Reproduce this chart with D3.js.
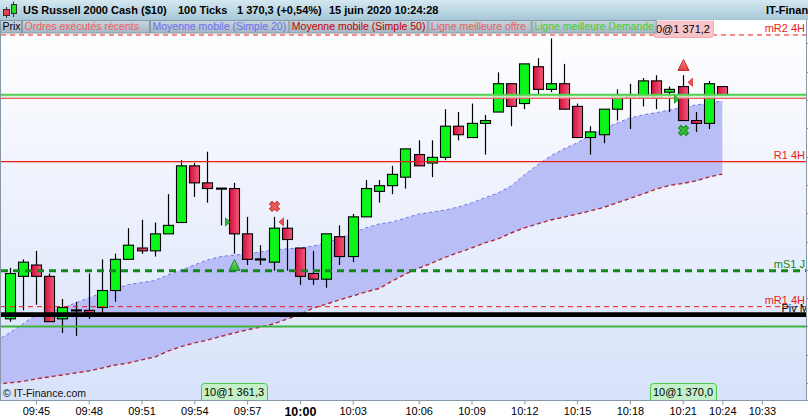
<!DOCTYPE html>
<html><head><meta charset="utf-8">
<script src="https://cdnjs.cloudflare.com/ajax/libs/d3/7.8.5/d3.min.js"></script>
<style>
html,body{margin:0;padding:0;background:#ffffff;overflow:hidden;}
svg{display:block;}
text{font-family:"Liberation Sans",Arial,sans-serif;}
</style></head><body>
<svg id="chart" width="808" height="420"></svg>
<script>
// ---------------- data ----------------
const candleIdx = d3.range(1, 56);
const opens  = [1362.4,1363.9,1364.3,1363.9,1362.4,1362.7,1362.7,1362.8,1363.4,1364.5,1364.9,1364.8,1365.4,1365.8,1367.8,1367.2,1367.0,1367.0,1365.4,1364.5,1364.4,1365.6,1364.9,1364.0,1363.8,1365.3,1364.6,1366.0,1366.9,1367.1,1367.4,1368.2,1367.9,1368.1,1369.2,1368.8,1369.3,1369.7,1370.7,1370.0,1371.3,1370.5,1370.7,1369.9,1368.8,1368.9,1369.8,1370.3,1370.2,1370.8,1370.4,1370.6,1369.4,1369.3,1370.6];
const highs  = [1364.2,1364.5,1364.8,1364.0,1363.1,1363.0,1364.0,1364.5,1364.7,1365.6,1365.9,1365.8,1366.8,1368.0,1367.9,1368.3,1367.0,1367.2,1366.0,1365.0,1366.0,1365.9,1364.9,1364.8,1365.4,1365.7,1366.1,1367.3,1367.3,1367.8,1368.4,1368.7,1368.7,1369.8,1369.7,1370.0,1369.6,1371.1,1370.7,1371.4,1371.6,1372.3,1371.4,1370.0,1369.2,1369.8,1370.5,1370.7,1370.9,1371.0,1370.6,1371.0,1369.7,1370.8,1370.6];
const lows   = [1362.3,1362.7,1362.9,1362.3,1361.9,1361.8,1362.4,1362.6,1363.0,1364.5,1364.7,1364.6,1365.4,1365.8,1366.7,1366.5,1365.7,1364.7,1364.3,1364.3,1364.1,1364.1,1363.6,1363.6,1363.5,1364.3,1364.4,1366.0,1366.5,1366.8,1367.0,1367.8,1367.4,1368.0,1368.7,1368.8,1368.2,1369.7,1369.2,1369.8,1370.3,1370.4,1369.8,1368.8,1368.2,1368.6,1369.4,1369.1,1369.9,1369.8,1369.7,1369.4,1369.0,1369.1,1370.3];
const closes = [1364.0,1364.4,1363.9,1362.3,1362.8,1362.7,1362.6,1363.4,1364.5,1365.0,1364.8,1365.4,1365.7,1367.8,1367.2,1367.0,1367.0,1365.4,1364.5,1364.5,1365.6,1365.2,1363.9,1363.8,1365.4,1364.6,1366.0,1367.0,1367.1,1367.5,1368.4,1367.8,1368.1,1369.2,1368.9,1369.3,1369.4,1370.7,1369.9,1371.4,1370.5,1370.7,1369.8,1368.8,1369.0,1369.8,1370.3,1370.2,1370.8,1370.2,1370.5,1369.4,1369.3,1370.7,1370.3];

const maIdx = d3.range(0, 56);
const ma20 = [1361.62,1361.90,1362.22,1362.54,1362.64,1362.78,1362.96,1363.14,1363.31,1363.45,1363.61,1363.68,1363.75,1363.95,1364.12,1364.30,1364.48,1364.60,1364.65,1364.69,1364.76,1364.83,1364.87,1364.90,1364.97,1365.08,1365.25,1365.43,1365.61,1365.75,1365.82,1365.96,1366.10,1366.17,1366.24,1366.35,1366.49,1366.67,1366.84,1367.09,1367.48,1367.83,1368.15,1368.40,1368.61,1368.89,1369.10,1369.31,1369.49,1369.60,1369.68,1369.77,1369.86,1369.95,1370.02,1370.09];
const ma50 = [1360.10,1360.14,1360.19,1360.28,1360.35,1360.42,1360.49,1360.56,1360.66,1360.77,1360.84,1360.95,1361.05,1361.26,1361.42,1361.55,1361.65,1361.78,1361.90,1362.01,1362.11,1362.22,1362.39,1362.54,1362.78,1362.92,1363.07,1363.21,1363.35,1363.47,1363.74,1363.98,1364.19,1364.37,1364.57,1364.74,1364.90,1365.08,1365.22,1365.43,1365.61,1365.75,1365.89,1365.99,1366.10,1366.21,1366.33,1366.49,1366.65,1366.81,1366.98,1367.11,1367.18,1367.27,1367.41,1367.51];

const tickIdx = [3,7,11,15,19,23,27,32,36,40,44,48,52,55,58];
const tickLabels = ["09:45","09:48","09:51","09:54","09:57","10:00","10:03","10:06","10:09","10:12","10:15","10:18","10:21","10:24","10:33"];
const boldTick = "10:00";
const priceTicks = [1359.13,1360.13,1361.13,1362.13,1363.13,1364.13,1365.13,1366.13,1367.13,1368.13,1369.13,1370.13,1371.13,1372.13];

const levelLabels = ["mR2 4H","R1 4H","mS1 J","mR1 4H","Piv M",""];
const levelPrices = [1372.42,1367.95,1364.10,1362.83,1362.55,1362.13];
const levelKinds  = ["redDash","redSolid","greenDash","redDash","pivot","greenSolid"];
const bidPrice = 1370.31;
const askPrice = 1370.18;

const signalIdx    = [18,21,52,52];
const signalPrices = [1364.30,1366.37,1371.36,1369.05];
const signalTypes  = ["buyTri","sellX","sellTri","buyX"];

const execIdx    = [18,21,52,52];
const execPrices = [1365.82,1365.82,1370.15,1370.75];
const execSides  = ["buy","sell","buy","sell"];

const orderIdx    = [18,52,52];
const orderLabels = ["10@1 361,3","10@1 370,0","0@1 371,2"];
const orderPlaces = ["bottom","bottom","top"];

const legendNames  = ["Prix","Ordres exécutés récents","Moyenne mobile (Simple 20)","Moyenne mobile (Simple 50)","Ligne meilleure offre","Ligne meilleure Demande"];
const legendColors = ["#000000","#f25c5c","#6d6df2","#c00000","#e8605a","#3dd03d"];
const headerParts  = ["US Russell 2000 Cash ($10)","100 Ticks","1 370,3 (+0,54%)","15 juin 2020 10:24:28"];
const brand = "IT-Finance.com";

// ---------------- layout ----------------
const W = 808, H = 420;
const plotL = 1, plotR = 806, plotT = 20, plotB = 400;
const headerX = [23,178,237,329];
const tabEdges = [0,22,150,289.3,428.3,531.7,656.7];

const svg = d3.select("#chart");
const defs = svg.append("defs");
function vgrad(id, stops, horiz){
  const g = defs.append("linearGradient").attr("id", id)
    .attr("x1",0).attr("y1",0).attr("x2",horiz?1:0).attr("y2",horiz?0:1);
  stops.forEach(s => g.append("stop").attr("offset", s[0]).attr("stop-color", s[1]));
}
vgrad("bgGrad", [[0,"#ffffff"],[0.35,"#f2f5fd"],[1,"#d7e2fa"]]);
vgrad("hdrGrad", [[0,"#d4e8f1"],[1,"#a7c7d7"]]);
vgrad("tabGrad", [[0,"#c9d7df"],[1,"#a3b7c3"]]);
vgrad("redBody", [[0,"#d0103e"],[1,"#f45a7c"]], true);
vgrad("greenTri", [[0,"#7fe07f"],[1,"#2fae2f"]]);
vgrad("redTri", [[0,"#ff8a8a"],[1,"#e03a3a"]]);
defs.append("clipPath").attr("id","plotClip").append("rect")
  .attr("x",plotL).attr("y",plotT).attr("width",plotR-plotL).attr("height",plotB-plotT);

const x = d3.scaleLinear().domain([1,58]).range([9.5, 761.9]);
const y = d3.scaleLinear().domain([1359.5,1373.0]).range([401, 18.55]);

// background
svg.append("rect").attr("x",0).attr("y",0).attr("width",W).attr("height",H).attr("fill","#ffffff");
svg.append("rect").attr("x",0).attr("y",plotT).attr("width",plotR).attr("height",plotB-plotT).attr("fill","url(#bgGrad)");

const plot = svg.append("g").attr("clip-path","url(#plotClip)");

// MA band
const band = maIdx.map((d,i)=>({i:d, a:ma20[i], b:ma50[i]}));
plot.append("path").datum(band)
  .attr("d", d3.area().x(d=>x(d.i)).y0(d=>y(d.b)).y1(d=>y(d.a)))
  .attr("fill","#b9bef7");
plot.append("path").datum(band)
  .attr("d", d3.line().x(d=>x(d.i)).y(d=>y(d.a)))
  .attr("fill","none").attr("stroke","#6e74ee").attr("stroke-width",1).attr("stroke-dasharray","3,3");
plot.append("path").datum(band)
  .attr("d", d3.line().x(d=>x(d.i)).y(d=>y(d.b)))
  .attr("fill","none").attr("stroke","#b22a36").attr("stroke-width",1.4).attr("stroke-dasharray","4,3");

// candles
const candles = candleIdx.map((d,i)=>({i:d,o:opens[i],h:highs[i],l:lows[i],c:closes[i]}));
const cg = plot.append("g");
candles.forEach(d=>{
  const cx = Math.round(x(d.i));
  cg.append("line").attr("x1",cx+0.5).attr("x2",cx+0.5)
    .attr("y1",y(d.h)).attr("y2",y(d.l)).attr("stroke","#000").attr("stroke-width",1.2);
  if (d.o === d.c) {
    cg.append("rect").attr("x",cx-5).attr("width",11).attr("y",y(d.c)-1).attr("height",2.2).attr("fill","#000");
  } else {
    const top = y(Math.max(d.o,d.c)), bot = y(Math.min(d.o,d.c));
    cg.append("rect").attr("x",cx-4.5).attr("width",10)
      .attr("y",top).attr("height",Math.max(1.5,bot-top))
      .attr("fill", d.c > d.o ? "#0cf51a" : "url(#redBody)")
      .attr("stroke","#000").attr("stroke-width",1.1);
  }
});

// horizontal levels
const lg = plot.append("g");
lg.append("rect").attr("x",plotL).attr("width",plotR-plotL)
  .attr("y",y(bidPrice)).attr("height",y(askPrice)-y(bidPrice)).attr("fill","#d9efd6").attr("opacity",0.85);
lg.append("line").attr("x1",plotL).attr("x2",plotR).attr("y1",y(bidPrice)).attr("y2",y(bidPrice))
  .attr("stroke","#4cd44c").attr("stroke-width",1.8);
lg.append("line").attr("x1",plotL).attr("x2",plotR).attr("y1",y(askPrice)).attr("y2",y(askPrice))
  .attr("stroke","#e86060").attr("stroke-width",1.2);
const levelStyle = {
  redDash:   {stroke:"#f01818", w:1, dash:"5,4"},
  redSolid:  {stroke:"#f01818", w:1.2, dash:null},
  greenDash: {stroke:"#12881a", w:3, dash:"7,5"},
  pivot:     {stroke:"#000000", w:4.6, dash:null},
  greenSolid:{stroke:"#3cb43c", w:2, dash:null}
};
levelPrices.forEach((p,i)=>{
  const s = levelStyle[levelKinds[i]];
  lg.append("line").attr("x1",plotL).attr("x2",plotR).attr("y1",y(p)).attr("y2",y(p))
    .attr("stroke",s.stroke).attr("stroke-width",s.w).attr("stroke-dasharray",s.dash);
});
const labelColor = {redDash:"#f01818",redSolid:"#f01818",greenDash:"#12881a",pivot:"#000",greenSolid:"#3cb43c"};
levelPrices.forEach((p,i)=>{
  if (!levelLabels[i]) return;
  plot.append("text").attr("x", levelKinds[i]==="pivot"?809:805).attr("y",y(p)-3)
    .attr("text-anchor","end").attr("font-size","11px")
    .attr("fill",labelColor[levelKinds[i]]).text(levelLabels[i]);
});

// executions (small triangles)
execIdx.forEach((ci,k)=>{
  const cx = Math.round(x(ci))+0.5, cy = y(execPrices[k]);
  let pts;
  if (execSides[k]==="buy") pts = [[cx-9,cy-4],[cx-4.5,cy],[cx-9,cy+4]];
  else pts = [[cx+9,cy-4],[cx+4.5,cy],[cx+9,cy+4]];
  plot.append("path").attr("d","M"+pts.map(p=>p.join(",")).join("L")+"Z")
    .attr("fill", execSides[k]==="buy" ? "#2cc02c" : "#f25050")
    .attr("stroke", execSides[k]==="buy" ? "#1d8f1d" : "#d03030").attr("stroke-width",0.8);
});

// signals
signalIdx.forEach((ci,k)=>{
  const cx = Math.round(x(ci))+0.5, cy = y(signalPrices[k]);
  const t = signalTypes[k];
  if (t.endsWith("Tri")) {
    plot.append("path").attr("d",`M${cx},${cy-5.5}L${cx+5.5},${cy+5.5}L${cx-5.5},${cy+5.5}Z`)
      .attr("fill", t==="buyTri" ? "url(#greenTri)" : "url(#redTri)")
      .attr("stroke", t==="buyTri" ? "#238a23" : "#c42a2a").attr("stroke-width",1);
  } else {
    plot.append("path").attr("d", d3.symbol(d3.symbolCross, 62)())
      .attr("transform",`translate(${cx},${cy}) rotate(45)`)
      .attr("fill", t==="buyX" ? "#36c036" : "#ef5a5a")
      .attr("stroke", t==="buyX" ? "#1f8a1f" : "#c83434").attr("stroke-width",1);
  }
});

// right price ticks & borders
svg.append("line").attr("x1",0.5).attr("x2",0.5).attr("y1",plotT).attr("y2",plotB).attr("stroke","#8797a6");
svg.append("line").attr("x1",plotR+0.5).attr("x2",plotR+0.5).attr("y1",plotT).attr("y2",plotB).attr("stroke","#8797a6");
priceTicks.forEach(p=>{
  const ty = Math.round(y(p))+0.5;
  if (ty < plotT || ty > plotB) return;
  svg.append("line").attr("x1",plotR+1).attr("x2",W).attr("y1",ty).attr("y2",ty).attr("stroke","#8797a6");
});

// brand
svg.append("text").attr("x",3).attr("y",397).attr("font-size","10.5px").attr("fill","#111").text("\u00A9 " + brand);

// order boxes
const og = svg.append("g");
orderIdx.forEach((ci,k)=>{
  const cx = x(ci);
  const bottom = orderPlaces[k]==="bottom";
  const g = og.append("g");
  const p = g.append("path");
  const t = g.append("text").attr("font-size","11px").attr("fill","#000").text(orderLabels[k]);
  const tw = t.node().getComputedTextLength();
  const bw = Math.round(tw + 6), bx = Math.round(cx - bw/2) + 0.5;
  const bh = 17, r = 3;
  const by = bottom ? 383.5 : 20.5;
  const path = bottom
    ? `M${bx},${by+bh}V${by+r}Q${bx},${by} ${bx+r},${by}H${bx+bw-r}Q${bx+bw},${by} ${bx+bw},${by+r}V${by+bh}`
    : `M${bx},${by}V${by+bh-r}Q${bx},${by+bh} ${bx+r},${by+bh}H${bx+bw-r}Q${bx+bw},${by+bh} ${bx+bw},${by+bh-r}V${by}`;
  p.attr("d", path)
    .attr("fill", bottom ? "#c3f0c8" : "#f7c5c9")
    .attr("stroke", bottom ? "#48c848" : "#f2a6ae").attr("stroke-width",1);
  t.attr("x", bx+2.5).attr("y", bottom ? 396 : 32.5);
});

// x axis
svg.append("rect").attr("x",0).attr("y",plotB).attr("width",W).attr("height",H-plotB).attr("fill","#ffffff");
const xAxis = d3.axisBottom(x).tickValues(tickIdx).tickFormat((d,i)=>tickLabels[i]).tickSize(4).tickPadding(3);
const ax = svg.append("g").attr("transform",`translate(0,${plotB+0.5})`).call(xAxis);
ax.select(".domain").remove();
ax.selectAll(".tick line").attr("stroke","#8797a6");
ax.selectAll(".tick text").attr("font-family","'Liberation Sans',Arial,sans-serif")
  .attr("font-size", d=>tickLabels[tickIdx.indexOf(d)]===boldTick ? "12.5px" : "11px")
  .attr("font-weight", d=>tickLabels[tickIdx.indexOf(d)]===boldTick ? "bold" : "normal")
  .attr("fill","#000");
svg.append("line").attr("x1",0).attr("x2",W).attr("y1",plotB+0.5).attr("y2",plotB+0.5).attr("stroke","#8797a6");

// header row 1
svg.append("rect").attr("x",0).attr("y",0).attr("width",W).attr("height",20).attr("fill","url(#hdrGrad)");
svg.append("line").attr("x1",6.5).attr("x2",6.5).attr("y1",7).attr("y2",18).attr("stroke","#333");
svg.append("rect").attr("x",3.5).attr("y",9.5).attr("width",6).attr("height",6).attr("fill","#e8404f").attr("stroke","#333");
svg.append("line").attr("x1",13.5).attr("x2",13.5).attr("y1",1.5).attr("y2",17).attr("stroke","#333");
svg.append("rect").attr("x",11.5).attr("y",4.5).attr("width",5).attr("height",9).attr("fill","#22e022").attr("stroke","#333");
headerParts.forEach((s,i)=>{
  svg.append("text").attr("x",headerX[i]).attr("y",14).attr("font-size","11px").attr("font-weight","bold").attr("fill","#000").text(s);
});
svg.append("text").attr("x",766).attr("y",14).attr("font-size","11px").attr("font-weight","bold").attr("fill","#000").text("IT-Finance");

// tabs
legendNames.forEach((n,i)=>{
  const x0 = tabEdges[i], x1 = tabEdges[i+1];
  svg.append("rect").attr("x",x0+0.5).attr("y",20.5).attr("width",x1-x0-1).attr("height",12.5)
    .attr("fill","url(#tabGrad)").attr("stroke","#8699a6").attr("stroke-width",1);
  svg.append("text").attr("x",x0+2.5).attr("y",30.3).attr("font-size","10.5px").attr("fill",legendColors[i]).text(n);
});
</script>
</body></html>
